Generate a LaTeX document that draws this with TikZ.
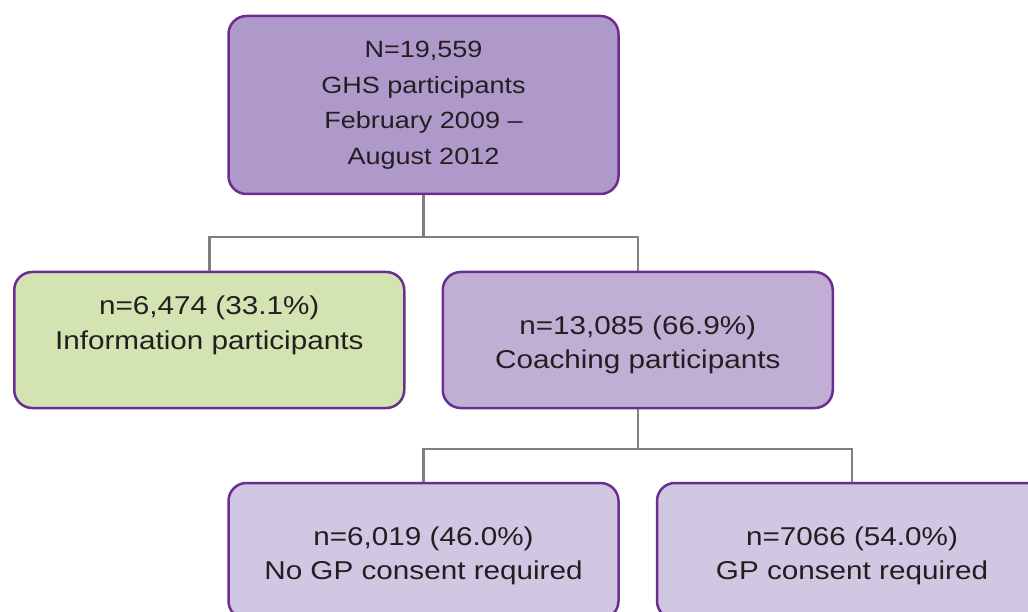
\documentclass[tikz,border=0pt]{standalone}
\usepackage{fontspec}
\setmainfont{Liberation Sans}[FakeStretch=1.15]
\usepackage{tikz}
\usetikzlibrary{calc}

\definecolor{boxline}{HTML}{6B2D90}
\definecolor{linegray}{HTML}{808080}
\definecolor{ink}{HTML}{231F20}
\definecolor{topfill}{HTML}{AF99CB}
\definecolor{midfill}{HTML}{C1AED5}
\definecolor{lowfill}{HTML}{D2C7E2}
\definecolor{infofill}{HTML}{D3E4B2}

\newcommand{\lowtext}{\rule{0pt}{28.5pt}}

\begin{document}
\begin{tikzpicture}[x=1pt, y=1pt,
                    box/.style={draw=boxline, line width=2.5pt, rounded corners=18pt,
                                minimum width=390pt, minimum height=136pt, align=center,
                                text=ink, font=\fontsize{25.8}{34.5}\selectfont},
                    level 1/.style={sibling distance=428.5pt},
                    level 2/.style={sibling distance=428.5pt, level distance=211pt},
                    level distance=235pt,
                    edge from parent/.style={draw=linegray, line width=2.5pt},
                    edge from parent path={(\tikzparentnode.south) |- ($(\tikzparentnode.south)!.55!(\tikzchildnode.north)$) -| (\tikzchildnode.north)}]
  \useasboundingbox (0,0) rectangle (1028,-612);
  \clip (0,0) rectangle (1028,-612);
  \node[box, fill=topfill, minimum height=178pt, font=\fontsize{23.5}{35.5}\selectfont] (ghs) at (423.5,-105)
      {N=19,559\\GHS participants\\February 2009 –\\August 2012}
    child { node[box, fill=infofill] (info) {n=6,474 (33.1\%)\\Information participants\\\mbox{}} }
    child { node[box, fill=midfill] (coach) {\lowtext n=13,085 (66.9\%)\\Coaching participants}
      child { node[box, fill=lowfill] (nogp) {\lowtext n=6,019 (46.0\%)\\No GP consent required} }
      child { node[box, fill=lowfill] (gp) {\lowtext n=7066 (54.0\%)\\GP consent required} }
    };
\end{tikzpicture}
\end{document}
